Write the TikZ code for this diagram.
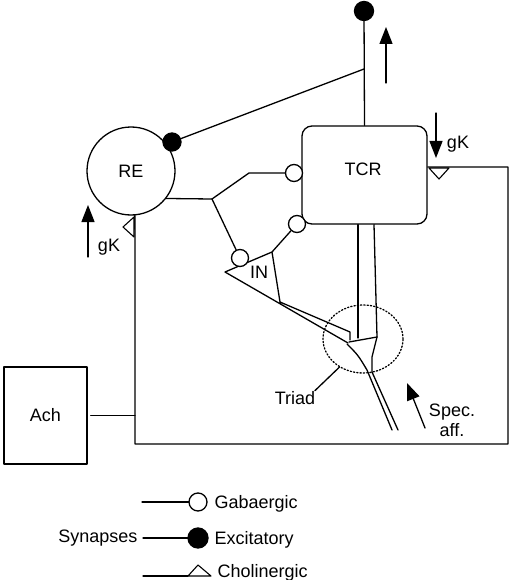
\documentclass[tikz,border=0pt]{standalone}
\usepackage{fontspec}
\setmainfont{Liberation Sans}
\usetikzlibrary{arrows.meta,shapes.geometric,backgrounds,calc}
\begin{document}
\begin{tikzpicture}[x=1pt,y=-1pt, line width=1.3pt, line join=round, line cap=round,
  every node/.style={font=\fontsize{18}{20}\selectfont},
  gaba/.style={circle,draw,fill=white,minimum size=17pt,inner sep=0pt},
  exc/.style={circle,draw,fill=black,minimum size=19pt,inner sep=0pt},
  lbl/.style={inner sep=0pt},
  wire/.style={line width=1.3pt,line join=round,line cap=round},
  gkarrow/.style={-{Triangle[length=17pt,width=13pt]}},
  chol/.style={draw,fill=white,line width=1.1pt}
]
\useasboundingbox (0,0) rectangle (514,580);

% cells
\node[circle,draw,minimum size=88pt,inner sep=0pt] (re) at (131,171) {RE};
\node[draw,rounded corners=10pt,minimum width=125pt,minimum height=98pt,inner sep=0pt] (tcr) at (364.5,175) {};
\node[lbl] (tcrlabel) at (363,169) {TCR};
\node[draw,minimum width=83pt,minimum height=97pt,inner sep=0pt] (ach) at (45.5,415.5) {Ach};

% synapses
\node[exc] (e0) at (364,11) {};
\node[exc,minimum size=18pt] (e1) at (172,142) {};
\node[gaba] (g1) at (294,173) {};
\node[gaba] (g2) at (297,224) {};
\node[gaba] (g3) at (240,258) {};

% triad zone
\node[ellipse,draw,dotted,line width=1.3pt,minimum width=80pt,minimum height=68pt,inner sep=0pt] (triad) at (363,339) {};

% coordinates
\coordinate (ax) at (364,69);
\coordinate (j1) at (212,199);
\coordinate (k1) at (249,173);
\coordinate (inA) at (272,252);
\coordinate (inB) at (280,302);
\coordinate (inC) at (350,332);
\coordinate (inD) at (225,272);
\coordinate (inE) at (348,343);
\coordinate (dl) at ($(tcr.south)+(-6.5,0)$);
\coordinate (dr) at ($(tcr.south)+(9.5,0)$);
\coordinate (bl) at (135,444);
\coordinate (br) at (508,444);
\coordinate (tr) at (508,167);

\begin{scope}[on background layer]
\begin{scope}[wire]
  \draw (tcr.north) -- (e0);
  \draw (ax) -- (e1);
  \draw (re.-38) -- (j1) -- (k1) -- (g1);
  \draw (j1) -- (g3);
  \draw (g2) -- (inA);
  % IN cell and dendrite
  \draw (inE) -- (inD) -- (inA) -- (inB) -- (inC) -- (350,340);
  % TCR dendrite
  \draw (dl) -- (358,338);
  \draw (dr) -- (377,337);
  \draw (349,342) -- (377,337);
  % specific afferent
  \draw (347,344) .. controls (358,355) .. (367,370) -- (392,430);
  \draw (377,337) -- (372,357) -- (372,372) -- (398,430);
  % legend lines
  \draw (142,502) coordinate (lg0) -- (198,502);
  \draw (143,538) coordinate (le0) -- (198,538);
\end{scope}
\end{scope}

% cholinergic pathway
\draw (re.-85) -- (bl) -- (br) -- (tr) -- (tcr.east |- tr);
\draw ([xshift=3pt]ach.east) -- (ach.east -| bl);
\draw[chol] (429,168) -- (449,168) -- (439,179) -- cycle;
\draw[chol] (134,217) -- (134,237) -- (123,227) -- cycle;

% gK and flow arrows
\draw[gkarrow] (386,83) -- (386,27);
\draw[gkarrow] (436,113) -- (436,158);
\draw[gkarrow] (88,257) -- (88,205);
\draw[gkarrow] (425,428) -- (407,383);

% labels
\node[lbl,anchor=base] (gk1) at (458,148.5) {gK};
\node[lbl,anchor=base] (gk2) at (109,251.5) {gK};
\node[lbl] (inlabel) at (259,272) {IN};
\node[lbl] (triadlabel) at (295,398) {Triad};
\draw (triad.230) -- ([xshift=-1pt]triadlabel.north east);
\node[lbl,anchor=base] (spec1) at (452,416.5) {Spec.};
\node[lbl,anchor=base] (spec2) at (452,436.5) {aff.};

% legend
\node[gaba,minimum size=18pt] (lg) at (198,502) {};
\node[exc,minimum size=20pt] (le) at (198,538) {};
\coordinate (lc0) at (143,576);
\draw (lc0) -- (188,576);
\draw[chol] (188,576) -- (211,576) -- (198,565) -- cycle;
\node[lbl,anchor=base west] (tg) at (214,508) {Gabaergic};
\node[lbl,anchor=base west] (tx) at (214,544) {Excitatory};
\node[lbl,anchor=base west] (tc) at (217,577) {Cholinergic};
\node[lbl,anchor=base east] (ts) at (138,542) {Synapses};
\end{tikzpicture}
\end{document}
